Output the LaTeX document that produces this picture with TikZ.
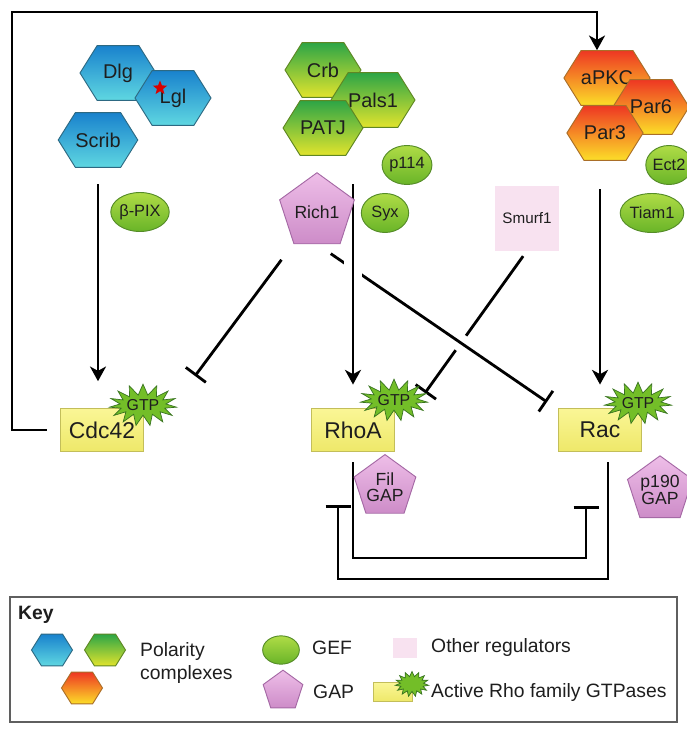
\documentclass[tikz,border=0pt]{standalone}
\usepackage{fontspec}
\setmainfont{Liberation Sans}
\usetikzlibrary{shapes.geometric,shapes.symbols,arrows.meta,backgrounds}
\definecolor{blueT}{RGB}{25,130,205}
\definecolor{blueB}{RGB}{95,215,225}
\definecolor{blueD}{RGB}{45,105,130}
\definecolor{greenT}{RGB}{45,165,70}
\definecolor{greenB}{RGB}{225,228,45}
\definecolor{greenD}{RGB}{95,135,35}
\definecolor{oranT}{RGB}{238,55,35}
\definecolor{oranB}{RGB}{252,222,40}
\definecolor{oranD}{RGB}{170,110,40}
\definecolor{gefT}{RGB}{175,220,70}
\definecolor{gefB}{RGB}{105,180,40}
\definecolor{gefD}{RGB}{85,140,40}
\definecolor{gapT}{RGB}{238,190,232}
\definecolor{gapB}{RGB}{205,140,200}
\definecolor{gapD}{RGB}{165,105,165}
\definecolor{othfill}{RGB}{248,226,240}
\definecolor{boxT}{RGB}{250,246,150}
\definecolor{boxB}{RGB}{238,232,105}
\definecolor{boxD}{RGB}{195,190,90}
\definecolor{gtpfill}{RGB}{115,190,40}
\definecolor{gtpD}{RGB}{55,115,30}
\definecolor{ink}{RGB}{30,30,30}
\definecolor{keyframe}{RGB}{95,95,95}
\tikzset{
  hex/.style={signal, signal to=east and west, signal pointer angle=116, line width=0.8pt,
    minimum width=2.28cm, minimum height=1.64cm, inner sep=0pt, text=ink,
    font=\fontsize{17}{17}\selectfont},
  hexblue/.style={hex, draw=blueD, top color=blueT, bottom color=blueB},
  hexgreen/.style={hex, draw=greenD, top color=greenT, bottom color=greenB},
  hexorange/.style={hex, draw=oranD, top color=oranT, bottom color=oranB},
  keyhex/.style={minimum width=1.23cm, minimum height=0.95cm},
  gef/.style={ellipse, draw=gefD, line width=0.8pt, top color=gefT, bottom color=gefB,
    minimum width=1.42cm, minimum height=1.17cm, inner sep=0pt, text=ink,
    font=\fontsize{14}{14}\selectfont},
  gap/.style={regular polygon, regular polygon sides=5, draw=gapD, line width=0.8pt,
    top color=gapT, bottom color=gapB, minimum size=1.8cm, inner sep=0pt, align=center,
    text=ink, font=\fontsize{15}{13.5}\selectfont},
  other/.style={rectangle, fill=othfill, minimum width=1.9cm, minimum height=1.95cm,
    text=ink, font=\fontsize{13}{13}\selectfont},
  gtpase/.style={rectangle, draw=boxD, line width=0.8pt, top color=boxT, bottom color=boxB,
    minimum width=2.5cm, minimum height=1.3cm, text=ink, font=\fontsize{19.5}{19.5}\selectfont},
  gtp/.style={starburst, starburst points=15, starburst point height=0.32cm, random starburst=0,
    fill=gtpfill, draw=gtpD, line width=0.6pt, minimum width=1.75cm, minimum height=1.25cm,
    inner sep=0pt, text=ink, font=\fontsize{13.5}{13.5}\selectfont},
  arr/.style={line width=2.4pt, -{Stealth[length=4.4mm,width=4.8mm,inset=1.3mm]}},
  inh/.style={line width=2.4pt, -{Bar[width=7.5mm]}},
  over/.style={preaction={draw=white, line width=15pt, -}},
  keytext/.style={text=ink, font=\fontsize{16.5}{19.5}\selectfont, anchor=west, inner sep=0pt, align=left},
}
\begin{document}
\begin{tikzpicture}[x=0.03cm,y=-0.03cm]
\useasboundingbox (0,0) rectangle (686,729);

% polarity complexes
\node[hexblue] (Dlg) at (118,73) {Dlg};
\node[hexblue] (Lgl) at (173,98) {Lgl};
\node[hexblue] (Scrib) at (98,140) {Scrib};
\node[star, star points=5, star point ratio=2.3, fill=red!85!black, inner sep=0pt, minimum size=0.45cm] (lglmark) at (160,88) {};
\node[hexgreen] (Crb) at (323,70) {Crb};
\node[hexgreen] (Pals1) at (373,100) {Pals1};
\node[hexgreen] (PATJ) at (323,128) {PATJ};
\node[hexorange] (aPKC) at (607,78) {aPKC};
\node[hexorange] (Par6) at (651,107) {Par6};
\node[hexorange] (Par3) at (605,133) {Par3};

% regulators
\node[gef] (bPIX) at (140,212) {β-PIX};
\node[gap] (Rich1) at (317,212) {Rich1};
\node[gef] (p114) at (407,165) {p114};
\node[gef] (Syx) at (385,213) {Syx};
\node[other] (Smurf1) at (527,218) {Smurf1};
\node[gef, minimum width=1.3cm] (Ect2) at (669,165) {Ect2};
\node[gef] (Tiam1) at (652,213) {Tiam1};

% Rho GTPases
\node[gtpase] (Cdc42) at (102,430) {Cdc42};
\node[gtp] (Cdc42gtp) at (143,405) {GTP};
\node[gtpase] (RhoA) at (353,430) {RhoA};
\node[gtp] (RhoAgtp) at (394,400) {GTP};
\node[gtpase] (Rac) at (600,430) {Rac};
\node[gtp] (Racgtp) at (638,403) {GTP};
\node[gap, minimum size=1.6cm] (FilGAP) at (385,487) {Fil\\GAP};
\node[gap] (p190GAP) at (660,490) {p190\\GAP};

\coordinate (fbleft) at (12,12);
\coordinate (fbtop) at (597,12);
\coordinate (cdcinh) at (195,376);
\coordinate (racinh) at (547,402);
\coordinate (rhoainh) at (425,393);
\coordinate (rhoaloop) at (354,558);
\coordinate (racinhlow) at (586,506);
\coordinate (racloop) at (608,579);
\coordinate (rhoainhlow) at (338,505);

\begin{scope}[on background layer]
\draw[arr, shorten <=0.4cm] (Cdc42.west) -| (fbleft) -- (fbtop) -- (fbtop |- aPKC.north);
\draw[arr, shorten <=0.5cm, shorten >=0.8cm] (Scrib.south) -- (Scrib.south |- Cdc42.north);
\draw[inh, shorten <=0.2cm] (Smurf1.south) -- (rhoainh);
\draw[inh, over, shorten <=0.5cm] (Rich1.south) -- (racinh);
\draw[inh, shorten <=0.6cm] (Rich1) -- (cdcinh);
\draw[arr, over, shorten <=0.85cm, shorten >=0.7cm] (RhoA.north |- PATJ.south) -- (RhoA.north);
\draw[arr, shorten <=0.85cm, shorten >=0.7cm] (Rac.north |- Par3.south) -- (Rac.north);
\draw[inh, shorten <=0.3cm] (RhoA.south) -- (RhoA.south |- rhoaloop) -| (racinhlow);
\draw[inh, shorten <=0.3cm] (Rac.south -| racloop) -- (racloop) -| (rhoainhlow);
\end{scope}

% key
\draw[keyframe, line width=1.2pt] (10,597) rectangle (677,722);
\node[keytext, font=\fontsize{16.5}{19.5}\selectfont\bfseries] (keytitle) at (18,615) {Key};
\node[hexblue, keyhex] (keyblue) at (52,650) {};
\node[hexgreen, keyhex] (keygreen) at (105,650) {};
\node[hexorange, keyhex] (keyorange) at (82,688) {};
\node[keytext] (keypol) at (140,663) {Polarity\\complexes};
\node[gef, minimum width=1.1cm, minimum height=0.85cm] (keygef) at (281,650) {};
\node[keytext] (keygeftext) at (312,648) {GEF};
\node[gap, minimum size=1.25cm] (keygap) at (283,691) {};
\node[keytext] (keygaptext) at (313,692) {GAP};
\node[other, minimum width=0.72cm, minimum height=0.62cm] (keyother) at (405,648) {};
\node[keytext] (keyothertext) at (431,647) {Other regulators};
\node[gtpase, minimum width=1.17cm, minimum height=0.57cm] (keybox) at (393,692) {};
\node[gtp, minimum width=1.0cm, minimum height=0.75cm, starburst point height=0.15cm] (keystar) at (412,684) {};
\node[keytext] (keyboxtext) at (431,692) {Active Rho family GTPases};
\end{tikzpicture}
\end{document}
